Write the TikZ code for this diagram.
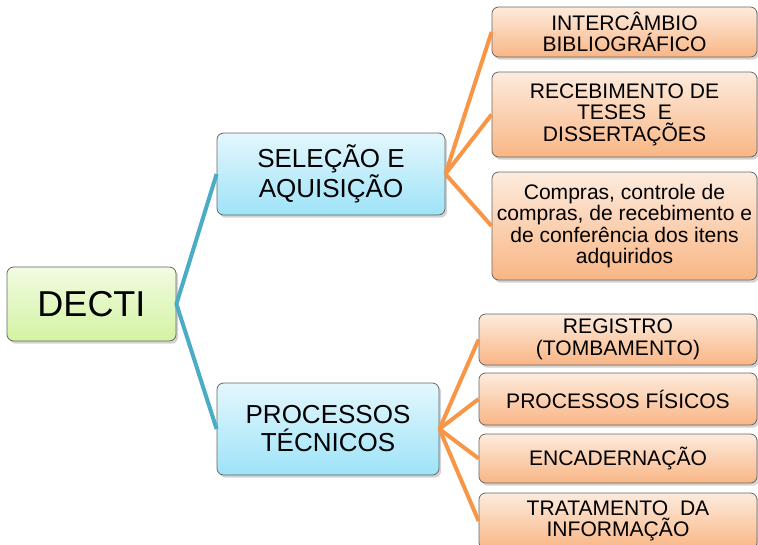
\documentclass[tikz,border=0pt]{standalone}
\usepackage{fontspec}
\setmainfont{Liberation Sans}
\usetikzlibrary{shadows,shadings}
\definecolor{gtop}{HTML}{F2FBE2}
\definecolor{gbot}{HTML}{D3F3A2}
\definecolor{btop}{HTML}{E4F7FD}
\definecolor{bbot}{HTML}{9EE3F8}
\definecolor{otop}{HTML}{FDEBDD}
\definecolor{obot}{HTML}{F9B685}
\definecolor{bline}{HTML}{4BACC6}
\definecolor{oline}{HTML}{F79646}
\tikzset{
  base/.style={draw=black!60, line width=0.6pt, rounded corners=5pt, align=center, inner sep=0pt,
    drop shadow={opacity=0.35, shadow xshift=1.6pt, shadow yshift=-2pt}},
  gbox/.style={base, top color=gtop, bottom color=gbot, font=\fontsize{27}{30}\selectfont},
  bbox/.style={base, top color=btop, bottom color=bbot, font=\fontsize{19.5}{21}\selectfont},
  obox/.style={base, top color=otop, bottom color=obot, font=\fontsize{15.8}{16.2}\selectfont},
  bconn/.style={draw=bline, line width=3pt},
  oconn/.style={draw=oline, line width=3pt},
}
\begin{document}
\begin{tikzpicture}[x=0.75pt,y=-0.75pt]
\useasboundingbox (0,0) rectangle (758,544);
\clip (0,0) rectangle (758,544);
\node[gbox, minimum width=126.75pt, minimum height=55.5pt] (decti) at (91.5,304) {DECTI};
\node[bbox, minimum width=171pt, minimum height=61.5pt] (sel) at (331,174) {SELEÇÃO E\\AQUISIÇÃO};
\node[bbox, minimum width=166.5pt, minimum height=69pt] (proc) at (328,429) {PROCESSOS\\TÉCNICOS};
\node[obox, minimum width=198.75pt, minimum height=37.5pt] (o1) at (624.5,32) {INTERCÂMBIO\\BIBLIOGRÁFICO};
\node[obox, minimum width=198.75pt, minimum height=63.75pt] (o2) at (624.5,114.5) {RECEBIMENTO DE\\TESES\ \ E\\DISSERTAÇÕES};
\node[obox, minimum width=198.75pt, minimum height=81pt] (o3) at (624.5,226) {Compras, controle de\\compras, de recebimento e\\de conferência dos itens\\adquiridos};
\node[obox, minimum width=208.5pt, minimum height=38.25pt] (p1) at (618,339.5) {REGISTRO\\(TOMBAMENTO)};
\node[obox, minimum width=208.5pt, minimum height=39pt] (p2) at (618,399) {PROCESSOS FÍSICOS};
\node[obox, minimum width=208.5pt, minimum height=36.75pt] (p3) at (618,458.5) {ENCADERNAÇÃO};
\node[obox, minimum width=208.5pt, minimum height=42pt] (p4) at (618,521) {TRATAMENTO\ \ DA\\INFORMAÇÃO};
\draw[bconn] (sel.west) -- (decti.east) -- (proc.west);
\foreach \t in {o1,o2,o3} \draw[oconn] (sel.east) -- (\t.west);
\foreach \t in {p1,p2,p3,p4} \draw[oconn] (proc.east) -- (\t.west);
\end{tikzpicture}
\end{document}
